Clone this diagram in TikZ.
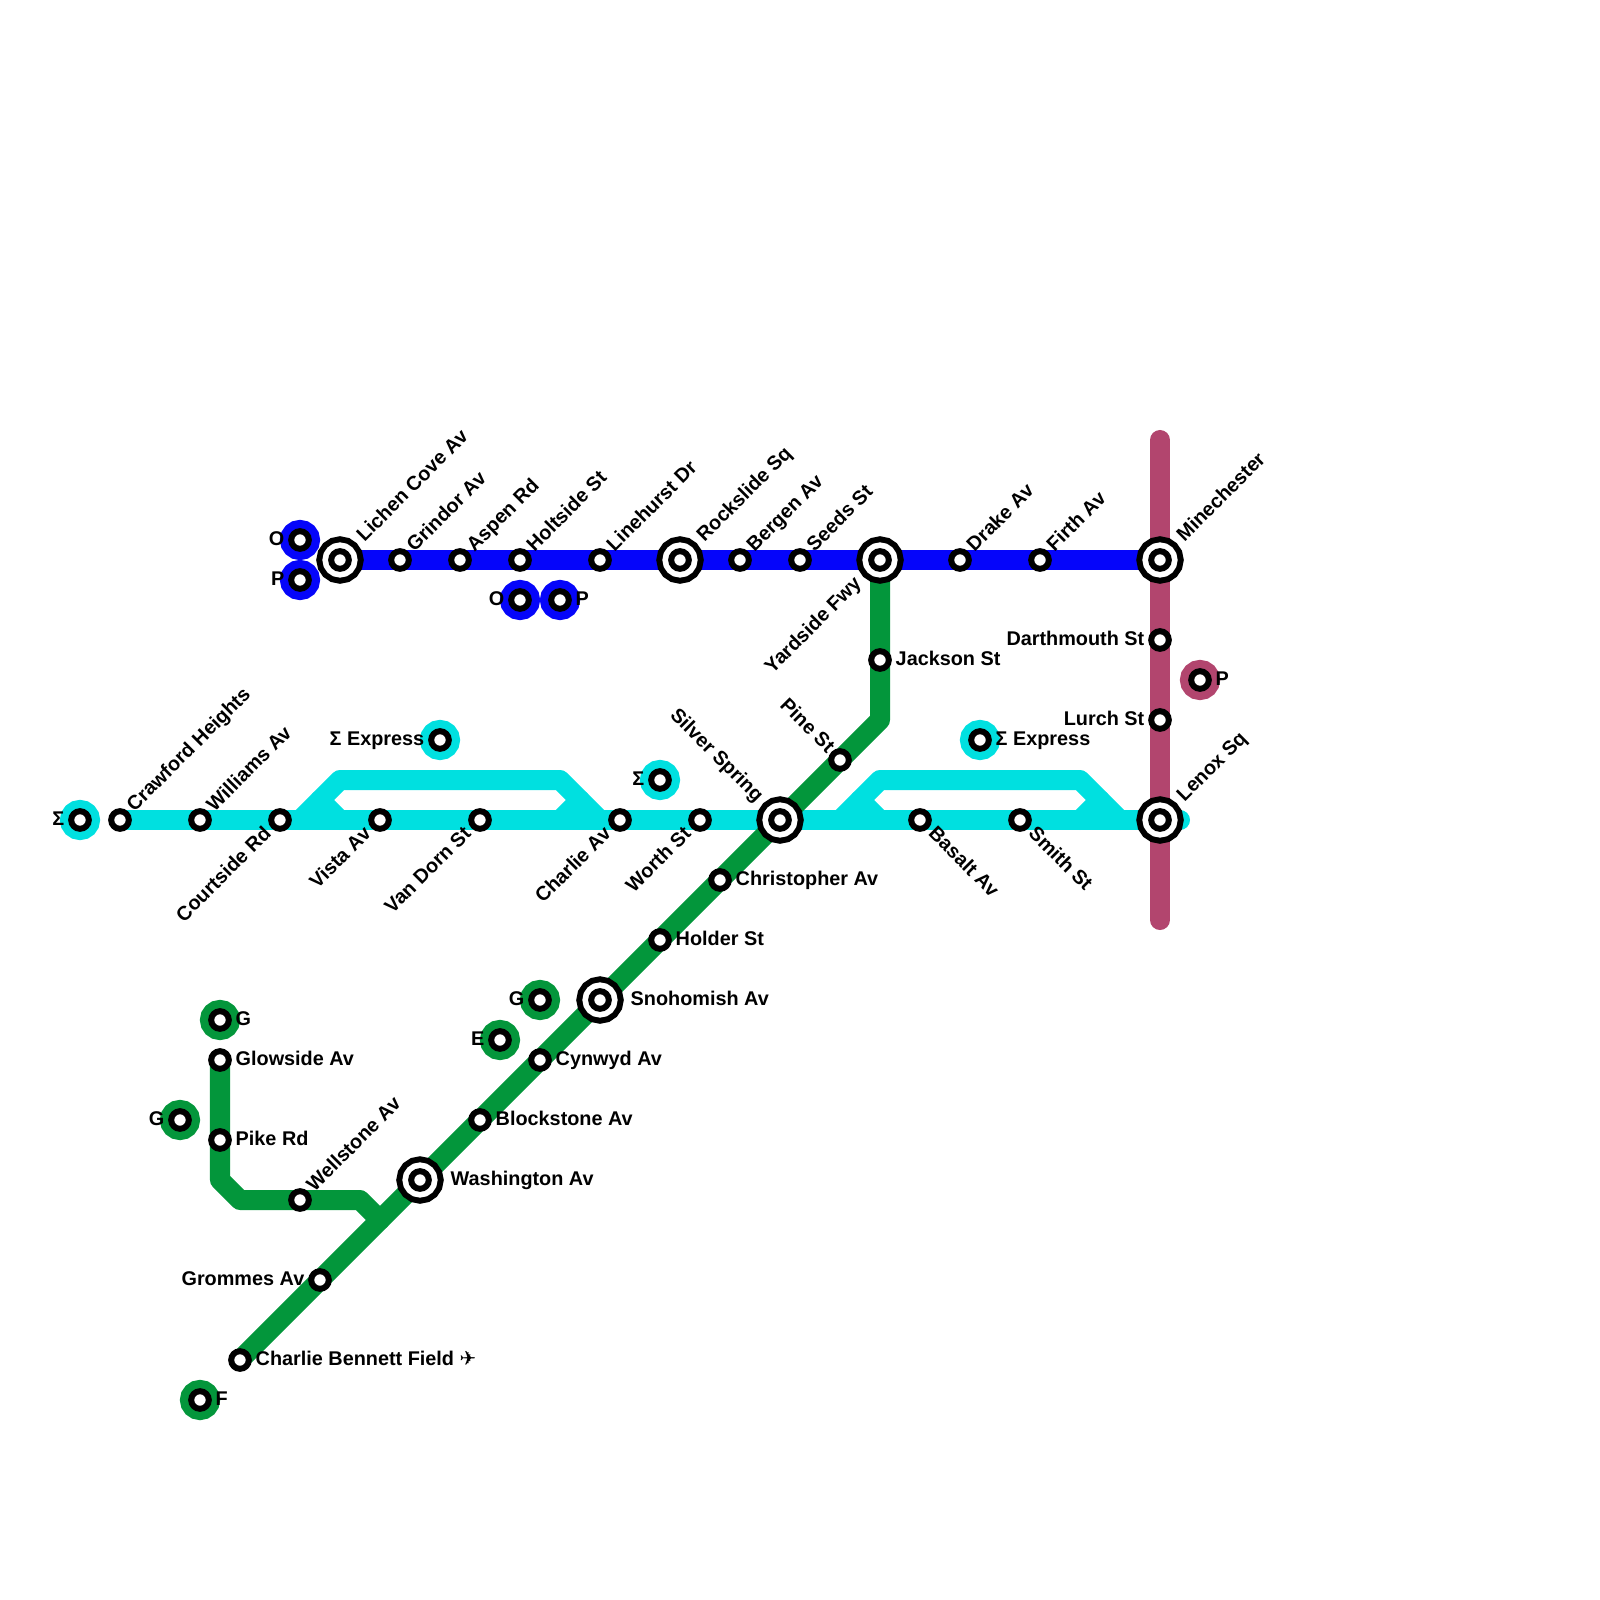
\documentclass[tikz,border=0pt]{standalone}
\usepackage{fontspec}
\setmainfont{Liberation Sans}
\newfontfamily\symfont{DejaVu Sans}
\usetikzlibrary{positioning}
\pgfdeclarelayer{lines}
\pgfsetlayers{lines,main}
\definecolor{cyanl}{HTML}{00E0E0}
\definecolor{bluel}{HTML}{0505FA}
\definecolor{greenl}{HTML}{03963B}
\definecolor{purpl}{HTML}{B2456E}

\begin{document}
\begin{tikzpicture}[x=.01cm,y=-.01cm,font=\fontsize{5.64}{6}\selectfont\bfseries,
 ln/.style={line width=.2cm,line join=round,line cap=round},
 st/.style={circle,draw=black,fill=white,line width=.06cm,minimum size=.176cm,inner sep=0pt,outer sep=0pt},
 xc/.style={st,preaction={draw=black,line width=.294cm},preaction={draw=white,line width=.174cm}},
 mk/.style={st,preaction={draw=#1,line width=.224cm}},
 lab/.style={inner ysep=0pt,inner xsep=.15cm,text height=4pt,text depth=1.14pt},
 e/.style={lab,anchor=west},
 w/.style={lab,anchor=east},
 ne/.style={lab,anchor=west,rotate=45},
 sw/.style={lab,anchor=east,rotate=45,inner xsep=.155cm},
 nw/.style={lab,anchor=east,rotate=-45,inner xsep=.13cm},
 se/.style={lab,anchor=west,rotate=-45},
 big/.style={inner xsep=#1},big/.default=.295cm]
\useasboundingbox (0,0) rectangle (1600,1600);

% round markers
\node[mk=cyanl] (msa) at (80,820) {};\node[mk=cyanl] (msb) at (440,740) {};
\node[mk=cyanl] (msc) at (660,780) {};\node[mk=cyanl] (msd) at (980,740) {};
\node[mk=bluel] (moa) at (300,540) {};\node[mk=bluel] (mpa) at (300,580) {};
\node[mk=bluel] (mob) at (520,600) {};\node[mk=bluel] (mpb) at (560,600) {};
\node[mk=greenl] (mga) at (220,1020) {};\node[mk=greenl] (mgb) at (180,1120) {};
\node[mk=greenl] (mgc) at (540,1000) {};\node[mk=greenl] (me) at (500,1040) {};
\node[mk=greenl] (mf) at (200,1400) {};\node[mk=purpl] (mpc) at (1200,680) {};

% stations on the cyan line
\node[st] (craw) at (120,820) {};\node[st] (will) at (200,820) {};
\node[st] (cour) at (280,820) {};\node[st] (vist) at (380,820) {};
\node[st] (vand) at (480,820) {};\node[st] (char) at (620,820) {};
\node[st] (wort) at (700,820) {};\node[xc] (silv) at (780,820) {};
\node[st] (basa) at (920,820) {};\node[st] (smit) at (1020,820) {};
\node[xc] (leno) at (1160,820) {};
% stations on the blue line
\node[xc] (lich) at (340,560) {};\node[st] (grin) at (400,560) {};
\node[st] (aspe) at (460,560) {};\node[st] (holt) at (520,560) {};
\node[st] (line) at (600,560) {};\node[xc] (rock) at (680,560) {};
\node[st] (berg) at (740,560) {};\node[st] (seed) at (800,560) {};
\node[xc] (yard) at (880,560) {};\node[st] (drak) at (960,560) {};
\node[st] (firt) at (1040,560) {};\node[xc] (mine) at (1160,560) {};
% stations on the green line
\node[st] (cben) at (240,1360) {};\node[st] (grom) at (320,1280) {};
\node[xc] (wash) at (420,1180) {};\node[st] (bloc) at (480,1120) {};
\node[st] (cyny) at (540,1060) {};\node[xc] (snoh) at (600,1000) {};
\node[st] (hold) at (660,940) {};\node[st] (chri) at (720,880) {};
\node[st] (pine) at (840,760) {};\node[st] (jack) at (880,660) {};
\node[st] (glow) at (220,1060) {};\node[st] (pike) at (220,1140) {};
\node[st] (well) at (300,1200) {};
% stations on the purple line
\node[st] (dart) at (1160,640) {};\node[st] (lurc) at (1160,720) {};

% bends and free ends
\coordinate (ca) at (300,820);\coordinate (cb) at (340,780);\coordinate (cc) at (560,780);
\coordinate (cd) at (600,820);\coordinate (ce) at (320,800);\coordinate (cf) at (340,820);
\coordinate (cg) at (580,800);\coordinate (ch) at (560,820);\coordinate (ci) at (840,820);
\coordinate (cj) at (880,780);\coordinate (ck) at (1080,780);\coordinate (cl) at (1120,820);
\coordinate (cm) at (860,800);\coordinate (cn) at (880,820);\coordinate (co) at (1100,800);
\coordinate (cp) at (1080,820);\coordinate (cq) at (1180,820);
\coordinate (ga) at (880,720);\coordinate (gb) at (220,1180);\coordinate (gc) at (240,1200);
\coordinate (gd) at (360,1200);\coordinate (ge) at (380,1220);
\coordinate (pa) at (1160,440);\coordinate (pb) at (1160,920);

\begin{pgfonlayer}{lines}
\draw[ln,cyanl] (craw.center)--(cq);
\draw[ln,cyanl] (ca)--(cb)--(cc)--(cd);
\draw[ln,cyanl] (ce)--(cf);\draw[ln,cyanl] (cg)--(ch);
\draw[ln,cyanl] (ci)--(cj)--(ck)--(cl);
\draw[ln,cyanl] (cm)--(cn);\draw[ln,cyanl] (co)--(cp);
\draw[ln,bluel] (lich.center)--(mine.center);
\draw[ln,greenl] (cben.center)--(ga)--(yard.center);
\draw[ln,greenl] (glow.center)--(gb)--(gc)--(gd)--(ge);
\draw[ln,purpl] (pa)--(pb);
\end{pgfonlayer}

% labels
\node[w] (lmsa) at (msa) {Σ};\node[w] (lmsb) at (msb) {Σ Express};
\node[w] (lmsc) at (msc) {Σ};\node[e] (lmsd) at (msd) {Σ Express};
\node[w] (lmoa) at (moa) {O};\node[w] (lmpa) at (mpa) {P};
\node[w] (lmob) at (mob) {O};\node[e] (lmpb) at (mpb) {P};
\node[e] (lmga) at (mga) {G};\node[w] (lmgb) at (mgb) {G};
\node[w] (lmgc) at (mgc) {G};\node[w] (lme) at (me) {E};
\node[e] (lmf) at (mf) {F};\node[e] (lmpc) at (mpc) {P};
\node[ne] (lcraw) at (craw) {Crawford Heights};\node[ne] (lwill) at (will) {Williams Av};
\node[sw] (lcour) at (cour) {Courtside Rd};\node[sw] (lvist) at (vist) {Vista Av};
\node[sw] (lvand) at (vand) {Van Dorn St};\node[sw] (lchar) at (char) {Charlie Av};
\node[sw] (lwort) at (wort) {Worth St};\node[nw,big=.285cm] (lsilv) at (silv) {Silver Spring};
\node[se] (lbasa) at (basa) {Basalt Av};\node[se] (lsmit) at (smit) {Smith St};
\node[ne,big=.29cm] (lleno) at (leno) {Lenox Sq};
\node[ne,big=.29cm] (llich) at (lich) {Lichen Cove Av};\node[ne] (lgrin) at (grin) {Grindor Av};
\node[ne] (laspe) at (aspe) {Aspen Rd};\node[ne] (lholt) at (holt) {Holtside St};
\node[ne] (lline) at (line) {Linehurst Dr};\node[ne,big=.29cm] (lrock) at (rock) {Rockslide Sq};
\node[ne] (lberg) at (berg) {Bergen Av};\node[ne] (lseed) at (seed) {Seeds St};
\node[sw,big] (lyard) at (yard) {Yardside Fwy};\node[ne] (ldrak) at (drak) {Drake Av};
\node[ne] (lfirt) at (firt) {Firth Av};\node[ne,big=.29cm] (lmine) at (mine) {Minechester};
\node[e] (lcben) at (cben) {Charlie Bennett Field {\symfont\mdseries ✈}};
\node[w] (lgrom) at (grom) {Grommes Av};\node[e,big=.3cm] (lwash) at (wash) {Washington Av};
\node[e] (lbloc) at (bloc) {Blockstone Av};\node[e] (lcyny) at (cyny) {Cynwyd Av};
\node[e,big=.3cm] (lsnoh) at (snoh) {Snohomish Av};\node[e] (lhold) at (hold) {Holder St};
\node[e] (lchri) at (chri) {Christopher Av};\node[nw] (lpine) at (pine) {Pine St};
\node[e] (ljack) at (jack) {Jackson St};\node[e] (lglow) at (glow) {Glowside Av};
\node[e] (lpike) at (pike) {Pike Rd};\node[ne] (lwell) at (well) {Wellstone Av};
\node[w] (ldart) at (dart) {Darthmouth St};\node[w] (llurc) at (lurc) {Lurch St};
\end{tikzpicture}
\end{document}
